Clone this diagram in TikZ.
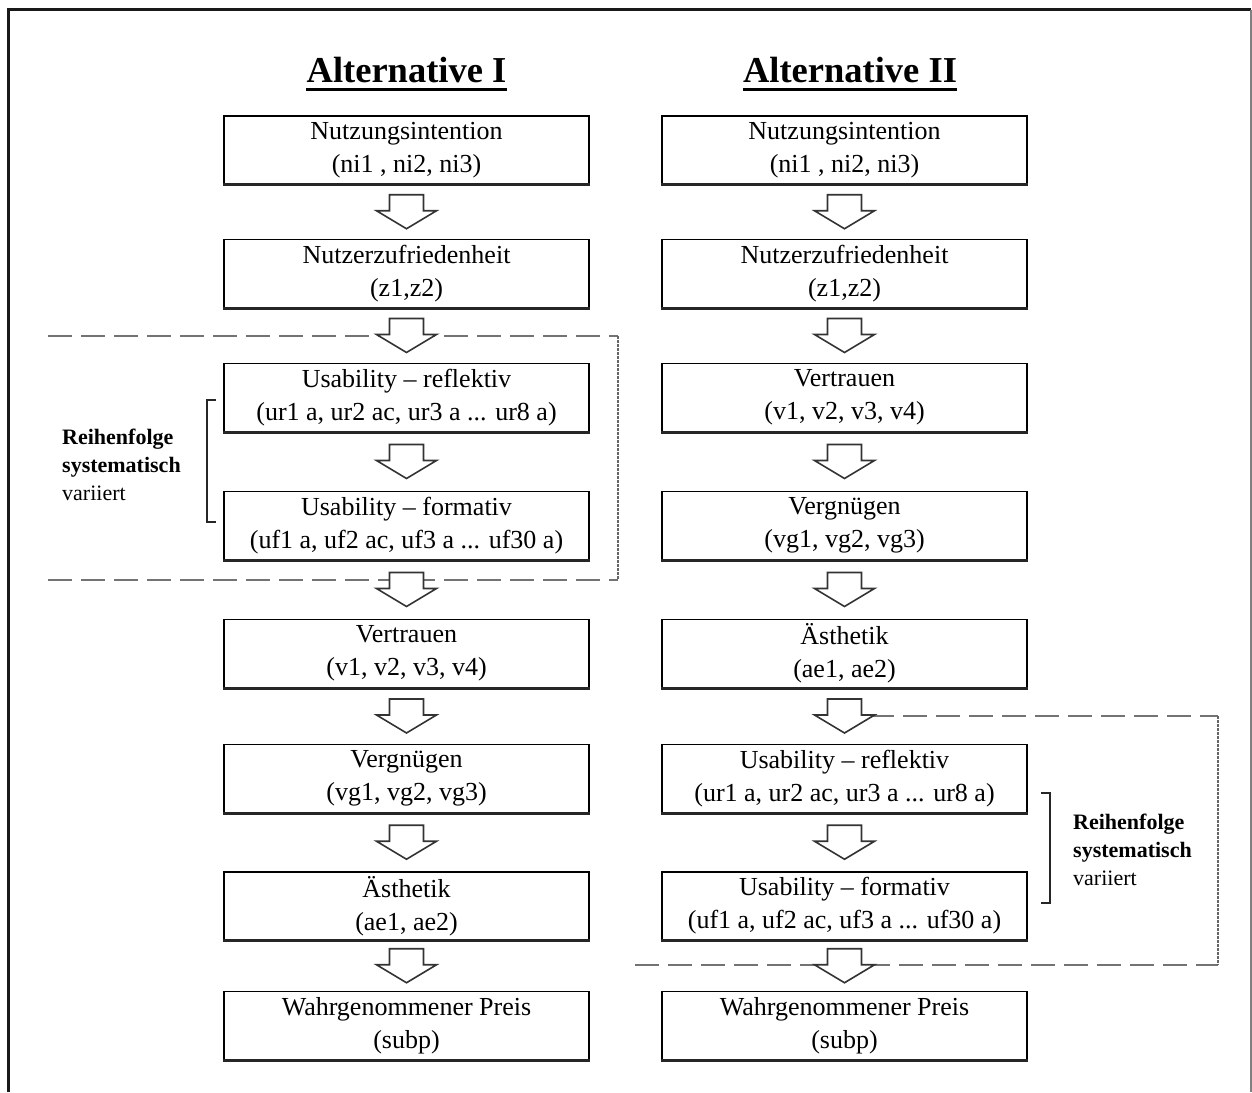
\documentclass[tikz,border=0pt]{standalone}
\usepackage{fontspec}
\setmainfont{Liberation Serif}
\usetikzlibrary{calc}

\tikzset{
  flowbox/.style={draw=black, line width=1.2pt, fill=white, minimum width=365pt,
    minimum height=68pt, inner sep=0pt, align=center,
    font=\fontsize{26}{33}\selectfont},
  boxbase/.style={line width=3pt, draw=black!85},
  blockarrow/.style={draw=black!80, line width=1.6pt, fill=white, line join=miter},
  title/.style={font=\bfseries\fontsize{36.5}{40}\selectfont, inner sep=0pt, anchor=base},
  groupline/.style={draw=black!55, line width=2pt, dash pattern=on 24pt off 9pt},
  groupside/.style={draw=black!60, line width=2.5pt, dash pattern=on 2.5pt off 1.5pt},
  bracket/.style={draw=black!85, line width=2pt},
  sidenote/.style={font=\fontsize{22}{28}\selectfont, align=left, inner sep=0pt, anchor=west},
  frame/.style={draw=black!90, line width=3pt},
}

% hollow down-pointing block arrow between two stacked boxes
\newcommand\flowstep[2]{%
  \draw[blockarrow] ($(#1.south)!0.5!(#2.north)$) ++(-17,-17) -- ++(34,0) -- ++(0,16)
    -- ++(13,0) -- ++(-30,18) -- ++(-30,-18) -- ++(13,0) -- cycle;}

\begin{document}
\begin{tikzpicture}[x=1pt,y=-1pt]
\useasboundingbox (0,0) rectangle (1252,1092);

% outer frame (open at the bottom)
\draw[frame] (8,1092) -- (8,9.5) -- (1251,9.5);
\draw[draw=black!50, line width=1.5pt] (1251,9.5) -- (1251,1092);

% column headings
\node[title] (tI) at (406.5,82) {Alternative I};
\node[title] (tII) at (850,82) {Alternative II};
\draw[line width=3pt] ([yshift=-7pt]tI.base west) -- ([yshift=-7pt]tI.base east);
\draw[line width=3pt] ([yshift=-7pt]tII.base west) -- ([yshift=-7pt]tII.base east);

% grouping frames of the varied order
\draw[groupline] (48,336) -- (618,336);
\draw[groupline] (48,580) -- (618,580);
\draw[groupside] (618,336) -- (618,580);
\draw[groupline] (870,716) -- (1218,716);
\draw[groupline] (635,965) -- (1218,965);
\draw[groupside] (1218,716) -- (1218,965);

% left column
\node[flowbox] (L1) at (406.5,150) {Nutzungsintention\\(ni1 , ni2, ni3)};
\node[flowbox] (L2) at (406.5,273.5) {Nutzerzufriedenheit\\(z1,z2)};
\node[flowbox] (L3) at (406.5,397.5) {Usability – reflektiv\\(ur1 a, ur2 ac, ur3 a ... ur8 a)};
\node[flowbox] (L4) at (406.5,525.5) {Usability – formativ\\(uf1 a, uf2 ac, uf3 a ... uf30 a)};
\node[flowbox] (L5) at (406.5,653.5) {Vertrauen\\(v1, v2, v3, v4)};
\node[flowbox] (L6) at (406.5,778.5) {Vergnügen\\(vg1, vg2, vg3)};
\node[flowbox] (L7) at (406.5,906) {Ästhetik\\(ae1, ae2)};
\node[flowbox] (L8) at (406.5,1025.5) {Wahrgenommener Preis\\(subp)};

% right column
\node[flowbox] (R1) at (844.5,150) {Nutzungsintention\\(ni1 , ni2, ni3)};
\node[flowbox] (R2) at (844.5,273.5) {Nutzerzufriedenheit\\(z1,z2)};
\node[flowbox] (R3) at (844.5,397.5) {Vertrauen\\(v1, v2, v3, v4)};
\node[flowbox] (R4) at (844.5,525.5) {Vergnügen\\(vg1, vg2, vg3)};
\node[flowbox] (R5) at (844.5,653.5) {Ästhetik\\(ae1, ae2)};
\node[flowbox] (R6) at (844.5,778.5) {Usability – reflektiv\\(ur1 a, ur2 ac, ur3 a ... ur8 a)};
\node[flowbox] (R7) at (844.5,906) {Usability – formativ\\(uf1 a, uf2 ac, uf3 a ... uf30 a)};
\node[flowbox] (R8) at (844.5,1025.5) {Wahrgenommener Preis\\(subp)};

% heavier lower edges of the boxes
\foreach \b in {L1,L2,L3,L4,L5,L6,L7,L8,R1,R2,R3,R4,R5,R6,R7,R8}
  \draw[boxbase] (\b.south west) -- (\b.south east);

% arrows
\flowstep{L1}{L2} \flowstep{L2}{L3} \flowstep{L3}{L4} \flowstep{L4}{L5}
\flowstep{L5}{L6} \flowstep{L6}{L7} \flowstep{L7}{L8}
\flowstep{R1}{R2} \flowstep{R2}{R3} \flowstep{R3}{R4} \flowstep{R4}{R5}
\flowstep{R5}{R6} \flowstep{R6}{R7} \flowstep{R7}{R8}

% brackets and notes
\coordinate (bl1) at (216,400);
\coordinate (bl2) at (216,522);
\draw[bracket] (bl1) -- ++(-9,0) |- (bl2);
\node[sidenote] (nl) at (62,465) {\textbf{Reihenfolge}\\\textbf{systematisch}\\variiert};

\coordinate (br1) at (1041,793);
\coordinate (br2) at (1041,903);
\draw[bracket] (br1) -- ++(9,0) |- (br2);
\node[sidenote] (nr) at (1073,850) {\textbf{Reihenfolge}\\\textbf{systematisch}\\variiert};
\end{tikzpicture}
\end{document}
